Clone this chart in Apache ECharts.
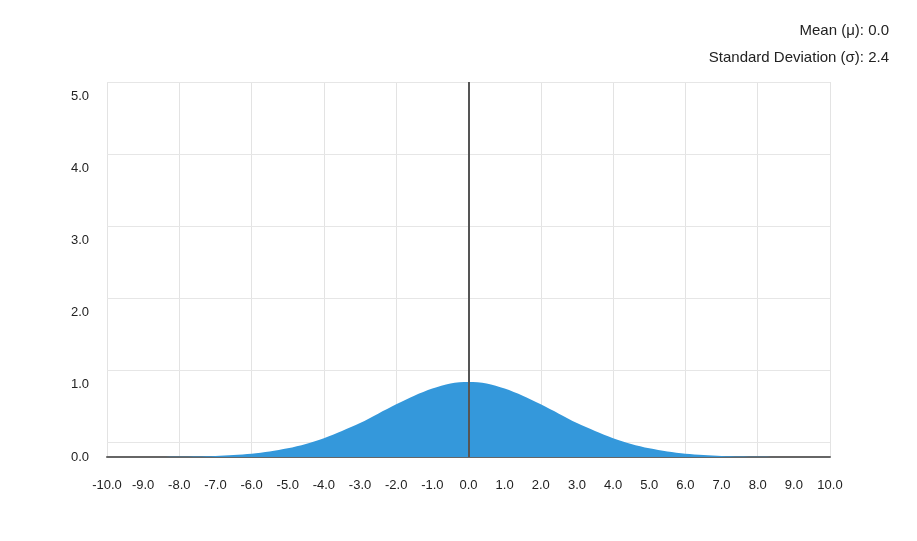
<!DOCTYPE html>
<html><head><meta charset="utf-8">
<script src="https://cdn.jsdelivr.net/npm/echarts@6/dist/echarts.min.js"></script>
<style>body{margin:0;background:#fff}#c{width:917px;height:541px}</style>
</head><body><div id="c"></div>
<script>
// curve points
const xs = [-10,-9.5,-9,-8.5,-8,-7.5,-7,-6.5,-6,-5.5,-5,-4.5,-4,-3.5,-3,-2.5,-2,-1.5,-1,-0.5,0,0.5,1,1.5,2,2.5,3,3.5,4,4.5,5,5.5,6,6.5,7,7.5,8,8.5,9,9.5,10]
const ys = [0,0,0,0.001,0.004,0.007,0.015,0.027,0.045,0.075,0.12,0.18,0.26,0.36,0.47,0.6,0.73,0.85,0.95,1.02,1.04,1.02,0.95,0.85,0.73,0.6,0.47,0.36,0.26,0.18,0.12,0.075,0.045,0.027,0.015,0.007,0.004,0.001,0,0,0]
const gridYs = [0.2,1.2,2.2,3.2,4.2,5.2]
const mean = 0.0, sd = 2.4

let chart = echarts.init(document.getElementById('c'))
chart.setOption({
  animation:false,
  textStyle:{fontFamily:'Liberation Sans, Arial'},
  graphic:[
    {type:'text',right:28,top:23,style:{text:'Mean (μ): '+mean.toFixed(1),fill:'#222',font:'15px Liberation Sans',align:'right'}},
    {type:'text',right:28,top:50,style:{text:'Standard Deviation (σ): '+sd.toFixed(1),fill:'#222',font:'15px Liberation Sans',align:'right'}}
  ],
  grid:{left:107,right:87,top:82,bottom:84},
  xAxis:[
    {type:'value',min:-10,max:10,interval:1,
     axisLine:{onZero:false,lineStyle:{color:'#666',width:2}},axisTick:{show:false},
     axisLabel:{color:'#222',fontSize:13,margin:22,formatter:v=>v.toFixed(1)},splitLine:{show:false}},
    {type:'value',min:-10,max:10,interval:2,position:'bottom',
     axisLine:{show:false},axisTick:{show:false},axisLabel:{show:false},
     splitLine:{lineStyle:{color:'#e3e3e3'}}}
  ],
  yAxis:{type:'value',min:0,max:5.2,interval:1,
    axisLine:{show:false},axisTick:{show:false},
    axisLabel:{color:'#222',fontSize:13,margin:18,showMaxLabel:false,formatter:v=>v.toFixed(1)},
    splitLine:{show:false}},
  series:[
    {type:'line',data:xs.map((x,i)=>[x,ys[i]]),smooth:0.3,symbol:'none',
     lineStyle:{width:0},areaStyle:{color:'#3498db',opacity:1},
     markLine:{silent:true,symbol:'none',label:{show:false},z:1,
       lineStyle:{color:'#e6e6e6',type:'solid',width:1},
       data:gridYs.map(v=>({yAxis:v}))}},
    {type:'line',data:[],markLine:{silent:true,symbol:'none',label:{show:false},
       lineStyle:{color:'#555',type:'solid',width:2},
       data:[{xAxis:mean}]}}
  ]
})
</script></body></html>
